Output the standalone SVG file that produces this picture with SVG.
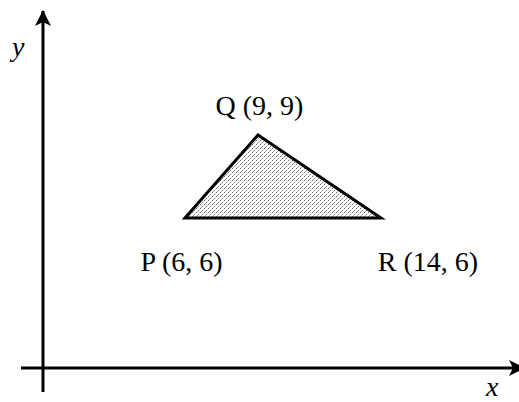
<svg xmlns="http://www.w3.org/2000/svg" width="519" height="402" viewBox="0 0 519 402">
<style>
.lbl{font-family:"Liberation Serif","Times New Roman",serif;font-size:28px;fill:#000}
.it{font-style:italic}
.axis{stroke:#000;stroke-width:3;fill:none}
</style>
<defs>
<pattern id="dots" width="4" height="4" patternUnits="userSpaceOnUse">
<rect width="4" height="4" fill="#fff"/>
<rect x="0" y="0" width="1" height="1" fill="#666"/>
<rect x="2" y="2" width="1" height="1" fill="#888"/>
<rect x="1" y="3" width="1" height="1" fill="#aaa"/>
<rect x="3" y="1" width="1" height="1" fill="#ccc"/>
</pattern>
<marker id="arr" viewBox="0 0 16 16" refX="15" refY="8" markerWidth="16" markerHeight="16" markerUnits="userSpaceOnUse" orient="auto">
<path d="M0,0 L16,8 L0,16 L4,8 Z" fill="#000"/>
</marker>
</defs>
<g id="connectors">
<line class="axis" x1="43" y1="392" x2="43" y2="11" marker-end="url(#arr)"/>
<line class="axis" x1="21" y1="368" x2="524" y2="368" marker-end="url(#arr)"/>
</g>
<g id="triangle">
<polygon points="185,218 258,135 381,218" fill="url(#dots)" stroke="#000" stroke-width="3" stroke-linejoin="miter"/>
</g>
<g id="labels">
<text class="lbl" x="259.5" y="115" text-anchor="middle">Q (9, 9)</text>
<text class="lbl" x="181.5" y="271" text-anchor="middle">P (6, 6)</text>
<text class="lbl" x="428" y="271" text-anchor="middle">R (14, 6)</text>
<text class="lbl it" x="12" y="56">y</text>
<text class="lbl it" x="486" y="396">x</text>
</g>
</svg>
